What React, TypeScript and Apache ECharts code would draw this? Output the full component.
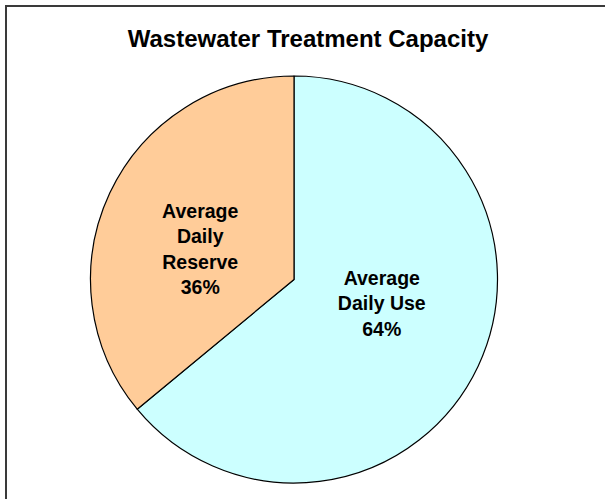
import React, { useEffect, useRef } from "react";
import * as echarts from "echarts";

const titleText = "Wastewater Treatment Capacity";
const categories = ["Average Daily Use", "Average Daily Reserve"];
const labelTexts = ["Average\nDaily Use", "Average\nDaily\nReserve"];
const values = [64, 36];
const colors = ["#CCFFFF", "#FFCC99"];

const FONT = '"Liberation Sans", Arial, Helvetica, sans-serif';

export default function App() {
  const ref = useRef<HTMLDivElement>(null);
  useEffect(() => {
    if (!ref.current) return;
    const chart = echarts.init(ref.current, null, { renderer: "svg" });
    chart.setOption({
      animation: false,
      backgroundColor: "#ffffff",
      graphic: [
        {
          type: "rect",
          shape: { x: 6, y: 6, width: 700, height: 600 },
          style: { fill: "none", stroke: "#3a3a3a", lineWidth: 2 },
          silent: true,
        },
        {
          type: "text",
          x: 308,
          y: 38,
          style: {
            text: titleText,
            fontFamily: FONT,
            fontWeight: "bold",
            fontSize: 24,
            fill: "#000",
            align: "center",
            verticalAlign: "middle",
          },
        },
      ],
      series: [
        {
          type: "pie",
          center: [294, 279.5],
          radius: 203.5,
          startAngle: 90,
          clockwise: true,
          avoidLabelOverlap: false,
          data: categories.map((name, i) => ({
            name,
            value: values[i],
            itemStyle: { color: colors[i] },
          })),
          itemStyle: { borderColor: "#000", borderWidth: 1.2 },
          label: {
            show: true,
            position: "inside",
            fontFamily: FONT,
            fontWeight: "bold",
            fontSize: 19.5,
            lineHeight: 25.5,
            color: "#000",
            align: "center",
            formatter: (p: any) => labelTexts[p.dataIndex] + "\n" + Math.round(p.percent) + "%",
          },
          labelLayout: (p: any) => (p.dataIndex === 0 ? { dx: -7, dy: -21 } : { dx: 1, dy: 14 }),
          labelLine: { show: false },
          emphasis: { disabled: true },
        },
      ],
    });
    return () => chart.dispose();
  }, []);
  return (
    <div
      ref={ref}
      style={{ position: "fixed", left: 0, top: 0, width: 605, height: 499 }}
    />
  );
}
